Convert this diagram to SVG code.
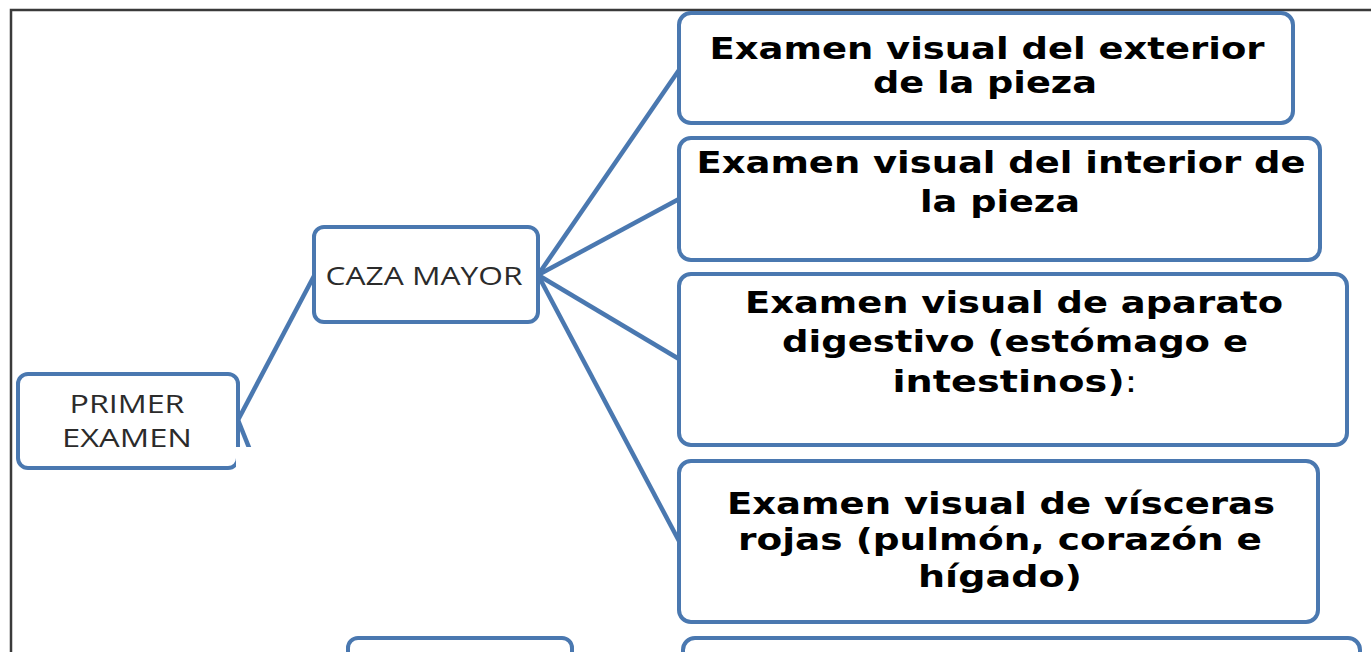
<svg xmlns="http://www.w3.org/2000/svg" width="1371" height="652" viewBox="0 0 1371 652">
<style>
.box{fill:#fff;stroke:#4a78b0;stroke-width:4}
.conn{stroke:#4a78b0;stroke-width:4.5;fill:none}
.lbl{font-family:"Open Sans","Liberation Sans",Arial,sans-serif;font-size:26px;fill:#2b2b2b;text-anchor:middle}
.bt{font-family:"DejaVu Sans",Verdana,sans-serif;font-weight:bold;font-size:31px;fill:#000;text-anchor:middle}
</style>
<rect width="1371" height="652" fill="#fff"/>
<path d="M11,652 V10 H1371" fill="none" stroke="#3a3a3a" stroke-width="2.5"/>
<g id="connectors">
<line class="conn" x1="238" y1="420" x2="314" y2="276"/>
<line class="conn" x1="238" y1="420" x2="347" y2="693"/>
<line class="conn" x1="538" y1="275" x2="679" y2="70"/>
<line class="conn" x1="538" y1="275" x2="679" y2="199"/>
<line class="conn" x1="538" y1="275" x2="679" y2="359"/>
<line class="conn" x1="538" y1="275" x2="679" y2="541"/>
</g>
<g id="primer">
<rect class="box" x="18" y="374" width="220" height="94" rx="10"/>
<text class="lbl" x="127" y="413" textLength="115" lengthAdjust="spacingAndGlyphs">PRIMER</text>
<text class="lbl" x="127" y="447" textLength="130" lengthAdjust="spacingAndGlyphs">EXAMEN</text>
</g>
<rect x="236" y="447" width="104" height="205" fill="#fff"/>
<g id="caza">
<rect class="box" x="314" y="227" width="224" height="95" rx="10"/>
<text class="lbl" x="424" y="285" textLength="197" lengthAdjust="spacingAndGlyphs">CAZA MAYOR</text>
</g>
<g id="n1">
<rect class="box" x="679" y="13" width="614" height="110" rx="12"/>
<text class="bt" x="987" y="59" textLength="555" lengthAdjust="spacingAndGlyphs">Examen visual del exterior</text>
<text class="bt" x="985" y="93" textLength="224" lengthAdjust="spacingAndGlyphs">de la pieza</text>
</g>
<g id="n2">
<rect class="box" x="679" y="138" width="641" height="122" rx="12"/>
<text class="bt" x="1001" y="173" textLength="609" lengthAdjust="spacingAndGlyphs">Examen visual del interior de</text>
<text class="bt" x="1000" y="212" textLength="160" lengthAdjust="spacingAndGlyphs">la pieza</text>
</g>
<g id="n3">
<rect class="box" x="679" y="274" width="668" height="171" rx="12"/>
<text class="bt" x="1014" y="313" textLength="538" lengthAdjust="spacingAndGlyphs">Examen visual de aparato</text>
<text class="bt" x="1015" y="352" textLength="466" lengthAdjust="spacingAndGlyphs">digestivo (estómago e</text>
<text class="bt" x="1015" y="392" textLength="245" lengthAdjust="spacingAndGlyphs">intestinos)<tspan font-weight="normal">:</tspan></text>
</g>
<g id="n4">
<rect class="box" x="679" y="461" width="639" height="161" rx="12"/>
<text class="bt" x="1001" y="514" textLength="548" lengthAdjust="spacingAndGlyphs">Examen visual de vísceras</text>
<text class="bt" x="1000" y="550" textLength="524" lengthAdjust="spacingAndGlyphs">rojas (pulmón, corazón e</text>
<text class="bt" x="1000" y="587" textLength="164" lengthAdjust="spacingAndGlyphs">hígado)</text>
</g>
<g id="n5">
<rect class="box" x="683" y="638" width="677" height="100" rx="12"/>
</g>
<g id="n6">
<rect class="box" x="348" y="638" width="224" height="100" rx="10"/>
</g>
</svg>
